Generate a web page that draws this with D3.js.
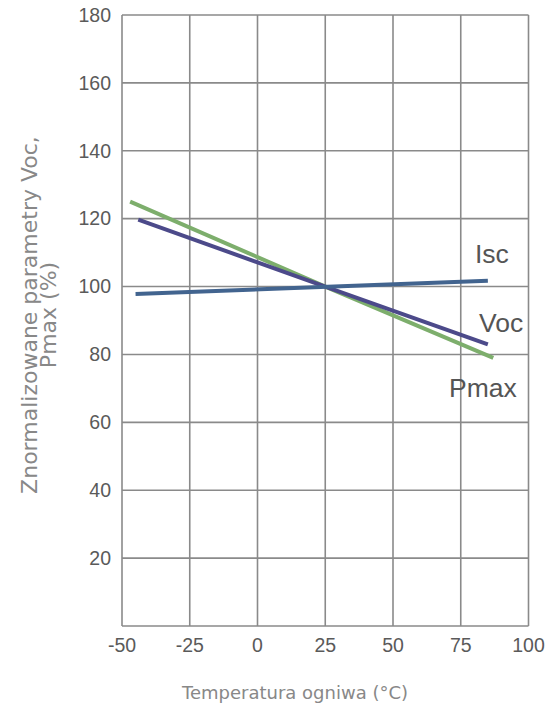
<!DOCTYPE html>
<html><head><meta charset="utf-8">
<script src="https://cdn.jsdelivr.net/npm/d3@7"></script>
<style>body{margin:0;background:#fff}</style></head>
<body><svg id="c" width="560" height="718"></svg>
<script>
const xTicks = [-50,-25,0,25,50,75,100];
const yTicks = [20,40,60,80,100,120,140,160,180];
const seriesNames = ["Pmax","Voc","Isc"];
const pmaxTemp = [-47,25,87];
const pmaxVal = [125,100,79];
const vocTemp = [-44,25,85];
const vocVal = [119.7,100,83];
const iscTemp = [-45,85];
const iscVal = [97.8,101.7];
const colors = {Pmax:"#7dae6c", Voc:"#4c4a8a", Isc:"#42648f"};

const svg = d3.select("#c");
const x = d3.scaleLinear().domain([-50,100]).range([122,528.5]);
const y = d3.scaleLinear().domain([0,180]).range([626,15]);
const grid = "#8a8a8a";

svg.append("g").selectAll("line").data(xTicks).join("line")
  .attr("x1",d=>x(d)).attr("x2",d=>x(d)).attr("y1",y(0)).attr("y2",y(180))
  .attr("stroke",grid).attr("stroke-width",1.6);
svg.append("g").selectAll("line").data([0].concat(yTicks)).join("line")
  .attr("x1",x(-50)).attr("x2",x(100)).attr("y1",d=>y(d)).attr("y2",d=>y(d))
  .attr("stroke",grid).attr("stroke-width",1.6);

svg.append("g").selectAll("text").data(xTicks).join("text")
  .attr("x",d=>x(d)).attr("y",652).attr("text-anchor","middle")
  .attr("font-family","Liberation Sans, Arial, sans-serif").attr("font-size",19.5)
  .attr("fill","#5a5a5a").text(d=>d);
svg.append("g").selectAll("text").data(yTicks).join("text")
  .attr("x",111).attr("y",d=>y(d)).attr("dy","0.35em").attr("text-anchor","end")
  .attr("font-family","Liberation Sans, Arial, sans-serif").attr("font-size",19.5)
  .attr("fill","#5a5a5a").text(d=>d);

const line = d3.line().x(d=>x(d[0])).y(d=>y(d[1]));
const data = {
  Pmax: d3.zip(pmaxTemp,pmaxVal),
  Voc: d3.zip(vocTemp,vocVal),
  Isc: d3.zip(iscTemp,iscVal)
};
seriesNames.forEach(n=>{
  svg.append("path").datum(data[n]).attr("d",line).attr("fill","none")
    .attr("stroke",colors[n]).attr("stroke-width",4);
});

const labels = [["Isc",475,263],["Voc",479,332],["Pmax",449,397]];
svg.append("g").selectAll("text").data(labels).join("text")
  .attr("x",d=>d[1]).attr("y",d=>d[2])
  .attr("font-family","Liberation Sans, Arial, sans-serif").attr("font-size",26.5)
  .attr("fill","#555").text(d=>d[0]);

svg.append("text").attr("x",295).attr("y",699).attr("text-anchor","middle")
  .attr("font-family","DejaVu Sans, sans-serif").attr("font-size",18)
  .attr("fill","#888").text("Temperatura ogniwa (°C)");
const yt = svg.append("text").attr("transform","translate(0,315) rotate(-90)")
  .attr("text-anchor","middle").attr("font-family","DejaVu Sans, sans-serif")
  .attr("font-size",22).attr("fill","#888");
yt.append("tspan").attr("x",0).attr("y",37).text("Znormalizowane parametry Voc,");
yt.append("tspan").attr("x",0).attr("y",56).text("Pmax (%)");
</script></body></html>
